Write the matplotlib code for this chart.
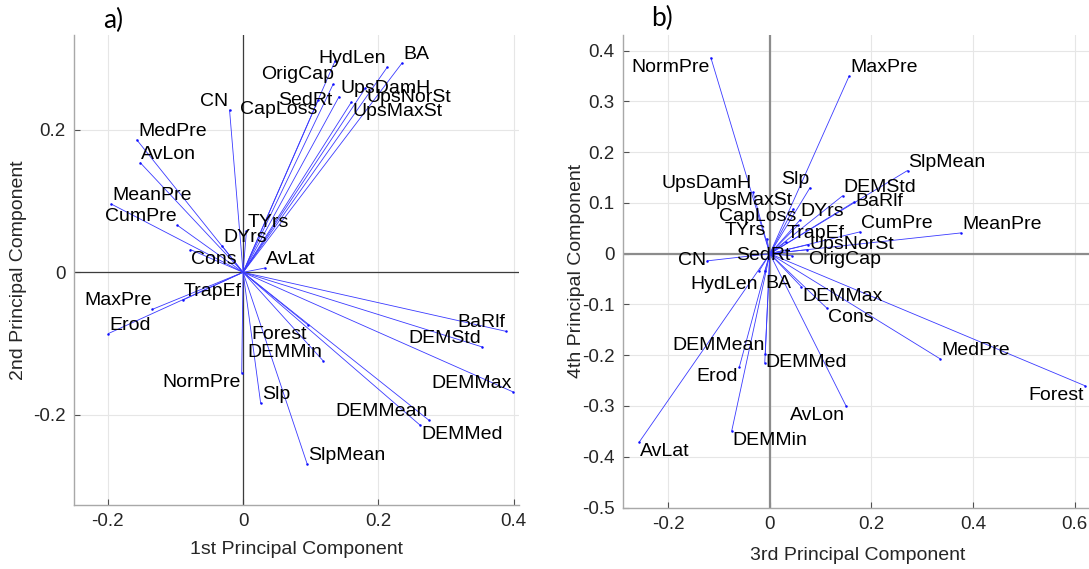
import matplotlib
matplotlib.use("Agg")
import matplotlib.pyplot as plt

plt.rcParams['font.family'] = ['Liberation Sans', 'DejaVu Sans']

# ---- Loadings on the 1st / 2nd principal components ----
names_a = ["BA", "HydLen", "OrigCap", "SedRt", "UpsDamH", "UpsNorSt", "UpsMaxSt",
           "CapLoss", "CN", "MedPre", "AvLon", "MeanPre", "CumPre", "DYrs", "Cons",
           "TYrs", "AvLat", "MaxPre", "TrapEf", "Erod", "NormPre", "Slp", "SlpMean",
           "DEMMin", "Forest", "BaRlf", "DEMStd", "DEMMax", "DEMMean", "DEMMed"]
pc1 = [0.235, 0.213, 0.136, 0.133, 0.142, 0.181, 0.160,
       0.111, -0.020, -0.157, -0.152, -0.195, -0.097, -0.031, -0.078,
       0.005, 0.032, -0.134, -0.089, -0.199, -0.002, 0.026, 0.095,
       0.118, 0.096, 0.389, 0.354, 0.399, 0.275, 0.262]
pc2 = [0.294, 0.288, 0.297, 0.264, 0.247, 0.259, 0.239,
       0.242, 0.228, 0.186, 0.154, 0.096, 0.066, 0.037, 0.032,
       0.058, 0.006, -0.052, -0.039, -0.086, -0.141, -0.184, -0.270,
       -0.124, -0.074, -0.083, -0.105, -0.168, -0.208, -0.215]

# ---- Loadings on the 3rd / 4th principal components ----
names_b = ["NormPre", "MaxPre", "SlpMean", "MeanPre", "Slp", "DEMStd", "BaRlf",
           "CumPre", "UpsDamH", "UpsMaxSt", "DYrs", "CapLoss", "TYrs", "SedRt",
           "CN", "TrapEf", "UpsNorSt", "OrigCap", "HydLen", "BA", "DEMMax", "Cons",
           "MedPre", "Forest", "AvLon", "DEMMed", "DEMMean", "Erod", "DEMMin", "AvLat"]
pc3 = [-0.116, 0.156, 0.271, 0.376, 0.079, 0.143, 0.166,
       0.177, -0.033, 0.046, 0.059, 0.055, -0.006, 0.043,
       -0.123, 0.031, 0.076, 0.074, -0.021, -0.010, 0.062, 0.112,
       0.335, 0.620, 0.150, -0.010, -0.009, -0.060, -0.075, -0.257]
pc4 = [0.386, 0.350, 0.164, 0.041, 0.130, 0.114, 0.102,
       0.043, 0.121, 0.088, 0.066, 0.056, 0.030, -0.004,
       -0.014, 0.023, 0.018, 0.008, -0.034, -0.034, -0.065, -0.107,
       -0.207, -0.260, -0.300, -0.215, -0.198, -0.223, -0.349, -0.371]

# Text anchor relative to the vector tip: (horizontal, vertical)
place_a = {"BA": "lb", "HydLen": "rb", "OrigCap": "rt", "SedRt": "rt", "UpsDamH": "lb",
           "UpsNorSt": "lt", "UpsMaxSt": "lt", "CapLoss": "rt", "CN": "rb",
           "MedPre": "lb", "AvLon": "lb", "MeanPre": "lb", "CumPre": "rb", "DYrs": "lb",
           "Cons": "lt", "TYrs": "lb", "AvLat": "lb", "MaxPre": "rb", "TrapEf": "lb",
           "Erod": "lb", "NormPre": "rt", "Slp": "lb", "SlpMean": "lb", "DEMMin": "rb",
           "Forest": "rt", "BaRlf": "rb", "DEMStd": "rb", "DEMMax": "rb",
           "DEMMean": "rb", "DEMMed": "lt"}
place_b = {"NormPre": "rt", "MaxPre": "lb", "SlpMean": "lb", "MeanPre": "lb", "Slp": "rb",
           "DEMStd": "lb", "BaRlf": "lc", "CumPre": "lb", "UpsDamH": "rb",
           "UpsMaxSt": "rb", "DYrs": "lb", "CapLoss": "rb", "TYrs": "rb", "SedRt": "rc",
           "CN": "rc", "TrapEf": "lb", "UpsNorSt": "lc", "OrigCap": "lt", "HydLen": "rt",
           "BA": "lt", "DEMMax": "lt", "Cons": "lt", "MedPre": "lb", "Forest": "rt",
           "AvLon": "rt", "DEMMed": "lc", "DEMMean": "rb", "Erod": "rt", "DEMMin": "lt",
           "AvLat": "lt"}
# Extra vertical nudges (pixels) for crowded labels
nudge_a = {"SedRt": -7, "OrigCap": -4}
nudge_b = {"HydLen": -4, "BA": -3}

W, H = 1089, 569
fig = plt.figure(figsize=(W / 100, H / 100), dpi=100)


def biplot(rect, names, xs, ys, place, nudge, xlim, ylim, xticks, yticks,
           zero_color, zero_lw, xlabel, ylabel):
    ax = fig.add_axes(rect)
    ax.set_xlim(*xlim)
    ax.set_ylim(*ylim)
    ax.set_xticks(xticks)
    ax.set_yticks(yticks)
    ax.set_xticklabels(["0" if abs(t) < 1e-9 else f"{t:g}" for t in xticks])
    ax.set_yticklabels(["0" if abs(t) < 1e-9 else f"{t:g}" for t in yticks])
    ax.grid(True, color="#e6e6e6", lw=0.8, zorder=0)
    ax.set_axisbelow(True)
    for s in ("top", "right"):
        ax.spines[s].set_visible(False)
    for s in ("left", "bottom"):
        ax.spines[s].set_color("#a8a8a8")
        ax.spines[s].set_linewidth(1.0)
    ax.tick_params(direction="in", length=4, width=0.8, color="#505050",
                   labelsize=13.5, labelcolor="#262626", pad=6)
    ax.axhline(0, color=zero_color, lw=zero_lw, zorder=1)
    ax.axvline(0, color=zero_color, lw=zero_lw, zorder=1)
    for x, y in zip(xs, ys):
        ax.plot([0, x], [0, y], color="#3a3aff", lw=0.6, zorder=2)
    ax.plot(xs, ys, "o", color="#1010ff", ms=1.8, mew=0, zorder=3)
    for n, x, y in zip(names, xs, ys):
        h, v = place[n]
        ha = {"l": "left", "r": "right"}[h]
        va = {"b": "bottom", "t": "top", "c": "center"}[v]
        dx = 1 if h == "l" else -1
        dy = {"b": 0, "t": -1, "c": 0}[v] + nudge.get(n, 0)
        ax.annotate(n, (x, y), xytext=(dx, dy), textcoords="offset pixels",
                    ha=ha, va=va, fontsize=14, color="black", zorder=4)
    ax.set_xlabel(xlabel, fontsize=14, color="#262626")
    ax.set_ylabel(ylabel, fontsize=14, color="#262626")
    return ax


ax_a = biplot([74 / W, 1 - 505 / H, 445 / W, 470 / H], names_a, pc1, pc2, place_a, nudge_a,
              (-0.25, 0.408), (-0.327, 0.3335), [-0.2, 0, 0.2, 0.4], [-0.2, 0, 0.2],
              "#3c3c3c", 0.9, "1st Principal Component", "2nd Principal Component")
ax_a.xaxis.labelpad = 8
ax_a.yaxis.labelpad = 4

ax_b = biplot([623 / W, 1 - 507.5 / H, 470 / W, 472.5 / H], names_b, pc3, pc4, place_b, nudge_b,
              (-0.289, 0.636), (-0.5, 0.431), [-0.2, 0, 0.2, 0.4, 0.6],
              [-0.5, -0.4, -0.3, -0.2, -0.1, 0, 0.1, 0.2, 0.3, 0.4],
              "#8c8c8c", 1.6, "3rd Principal Component", "4th Principal Component")
ax_b.xaxis.labelpad = 10
ax_b.yaxis.labelpad = -2

fig.text(113 / W, 1 - 20 / H, "a)", fontsize=19, family=["Lato", "DejaVu Sans"],
         ha="center", va="center")
fig.text(662 / W, 1 - 18 / H, "b)", fontsize=19, family=["Lato", "DejaVu Sans"],
         ha="center", va="center")

fig.savefig("out.png", dpi=100)
